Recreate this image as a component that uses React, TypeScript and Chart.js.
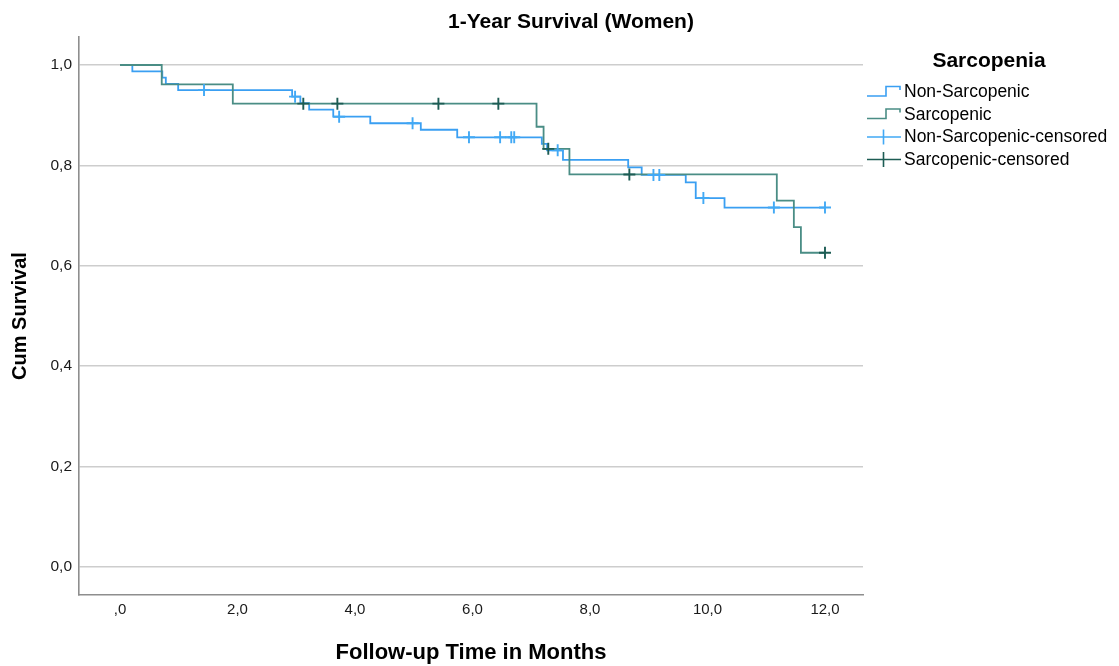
import React, { useEffect, useRef } from 'react';
import { Chart, registerables } from 'chart.js';

Chart.register(...registerables);

// ---- Data ----
const chartTitle = '1-Year Survival (Women)';
const legendTitle = 'Sarcopenia';
const seriesNames = ['Non-Sarcopenic', 'Sarcopenic', 'Non-Sarcopenic-censored', 'Sarcopenic-censored'];

const nonSarcTimes = [0, 0.21, 0.72, 0.78, 0.99, 2.93, 3.07, 3.22, 3.63, 4.26, 5.12, 5.74, 7.18, 7.27, 7.54, 8.65, 8.88, 9.63, 9.8, 10.29, 12.0];
const nonSarcSurv = [1.0, 0.9875, 0.975, 0.9625, 0.95, 0.937, 0.924, 0.911, 0.897, 0.884, 0.871, 0.856, 0.843, 0.83, 0.811, 0.796, 0.781, 0.766, 0.735, 0.716, 0.716];
const nonSarcCensored = [1.43, 2.98, 3.73, 4.98, 5.94, 6.47, 6.66, 6.71, 7.45, 9.08, 9.18, 9.93, 11.13, 12.0];

const sarcTimes = [0, 0.71, 1.92, 7.09, 7.21, 7.65, 11.18, 11.47, 11.59, 12.0];
const sarcSurv = [1.0, 0.9615, 0.923, 0.877, 0.833, 0.782, 0.73, 0.677, 0.626, 0.626];
const sarcCensored = [3.12, 3.7, 5.42, 6.44, 7.29, 8.67, 12.0];

const xTickValues = [0, 2, 4, 6, 8, 10, 12];
const xTickLabels = [',0', '2,0', '4,0', '6,0', '8,0', '10,0', '12,0'];
const yTickValues = [0, 0.2, 0.4, 0.6, 0.8, 1.0];
const yTickLabels = ['0,0', '0,2', '0,4', '0,6', '0,8', '1,0'];

const xTitle = 'Follow-up Time in Months';
const yTitle = 'Cum Survival';

// ---- Styles ----
const blueLine = '#3a9ff2';
const greenLine = '#4a8d85';
const blueCross = '#42a9f5';
const greenCross = '#1d5c54';
const FONT = '"Liberation Sans", Arial, sans-serif';

function survivalAt(times: number[], surv: number[], t: number): number {
  let s = surv[0];
  for (let i = 0; i < times.length; i++) {
    if (times[i] <= t) s = surv[i];
  }
  return s;
}

const overlayPlugin = {
  id: 'overlay',
  afterDraw(chart: any) {
    const ctx = chart.ctx;
    ctx.save();
    ctx.fillStyle = '#000';
    ctx.textBaseline = 'middle';
    ctx.textAlign = 'center';
    ctx.font = `bold 21px ${FONT}`;
    ctx.fillText(chartTitle, 571, 22);
    ctx.fillText(legendTitle, 989, 61);

    ctx.font = `17.5px ${FONT}`;
    ctx.textAlign = 'left';
    const colors = [blueLine, greenLine, blueCross, greenCross];
    for (let i = 0; i < seriesNames.length; i++) {
      const yc = 92 + i * 22.5;
      ctx.strokeStyle = colors[i];
      ctx.lineWidth = 1.6;
      ctx.beginPath();
      if (i < 2) {
        ctx.moveTo(867, yc + 4);
        ctx.lineTo(886, yc + 4);
        ctx.lineTo(886, yc - 5.5);
        ctx.lineTo(900, yc - 5.5);
        ctx.lineTo(900, yc - 2);
      } else {
        ctx.moveTo(867, yc);
        ctx.lineTo(901, yc);
        ctx.moveTo(883.5, yc - 7.5);
        ctx.lineTo(883.5, yc + 7.5);
      }
      ctx.stroke();
      ctx.fillStyle = '#000';
      ctx.fillText(seriesNames[i], 904, yc + 0.5);
    }
    ctx.restore();
  },
};

export default function App() {
  const canvasRef = useRef<HTMLCanvasElement | null>(null);

  useEffect(() => {
    const canvas = canvasRef.current;
    if (!canvas) return;

    const nonSarcLine = nonSarcTimes.map((t, i) => ({ x: t, y: nonSarcSurv[i] }));
    const sarcLine = sarcTimes.map((t, i) => ({ x: t, y: sarcSurv[i] }));
    const nonSarcCens = nonSarcCensored.map((t) => ({ x: t, y: survivalAt(nonSarcTimes, nonSarcSurv, t) }));
    const sarcCens = sarcCensored.map((t) => ({ x: t, y: survivalAt(sarcTimes, sarcSurv, t) }));

    const chart = new Chart(canvas, {
      type: 'line',
      data: {
        datasets: [
          {
            label: seriesNames[3],
            data: sarcCens,
            showLine: false,
            pointStyle: 'cross',
            pointRadius: 6,
            pointBorderWidth: 1.9,
            borderColor: greenCross,
            backgroundColor: greenCross,
            order: 0,
          },
          {
            label: seriesNames[2],
            data: nonSarcCens,
            showLine: false,
            pointStyle: 'cross',
            pointRadius: 6,
            pointBorderWidth: 1.9,
            borderColor: blueCross,
            backgroundColor: blueCross,
            order: 1,
          },
          {
            label: seriesNames[1],
            data: sarcLine,
            stepped: 'before',
            borderColor: greenLine,
            borderWidth: 1.8,
            pointRadius: 0,
            fill: false,
            order: 2,
          },
          {
            label: seriesNames[0],
            data: nonSarcLine,
            stepped: 'before',
            borderColor: blueLine,
            borderWidth: 1.8,
            pointRadius: 0,
            fill: false,
            order: 3,
          },
        ],
      },
      options: {
        responsive: false,
        animation: false,
        events: [],
        layout: { padding: { top: 37, right: 256, left: 0, bottom: 0 } },
        plugins: {
          legend: { display: false },
          tooltip: { enabled: false },
          title: { display: false },
        },
        scales: {
          x: {
            type: 'linear',
            min: -0.698,
            max: 12.647,
            afterFit: (scale: any) => {
              scale.height = 71;
            },
            afterBuildTicks: (scale: any) => {
              scale.ticks = xTickValues.map((v) => ({ value: v }));
            },
            ticks: {
              autoSkip: false,
              maxRotation: 0,
              padding: 6,
              color: '#1a1a1a',
              font: { family: FONT, size: 15 },
              callback: (value: any) => {
                const idx = xTickValues.indexOf(Number(value));
                return idx >= 0 ? xTickLabels[idx] : '';
              },
            },
            grid: { display: false, drawTicks: false },
            border: { display: true, color: '#8e8e8e', width: 1.6 },
            title: {
              display: true,
              text: xTitle,
              color: '#000',
              font: { family: FONT, size: 22, weight: 'bold' },
              padding: { top: 0, bottom: 0 },
            },
          },
          y: {
            type: 'linear',
            min: -0.0558,
            max: 1.0558,
            afterFit: (scale: any) => {
              scale.width = 79;
            },
            afterBuildTicks: (scale: any) => {
              scale.ticks = yTickValues.map((v) => ({ value: v }));
            },
            ticks: {
              autoSkip: false,
              padding: 7,
              color: '#1a1a1a',
              font: { family: FONT, size: 15.5 },
              callback: (value: any) => {
                const idx = yTickValues.findIndex((v) => Math.abs(v - Number(value)) < 1e-6);
                return idx >= 0 ? yTickLabels[idx] : '';
              },
            },
            grid: { display: true, drawTicks: false, color: '#cdcdcd', lineWidth: 1.6 },
            border: { display: true, color: '#8e8e8e', width: 1.6 },
            title: {
              display: true,
              text: yTitle,
              color: '#000',
              font: { family: FONT, size: 20, weight: 'bold' },
              padding: { top: 8, bottom: 0 },
            },
          },
        },
      },
      plugins: [overlayPlugin],
    } as any);

    return () => {
      chart.destroy();
    };
  }, []);

  return (
    <div style={{ position: 'absolute', left: 0, top: 0, width: 1119, height: 666, background: '#fff' }}>
      <canvas ref={canvasRef} width={1119} height={666} style={{ display: 'block' }} />
    </div>
  );
}
